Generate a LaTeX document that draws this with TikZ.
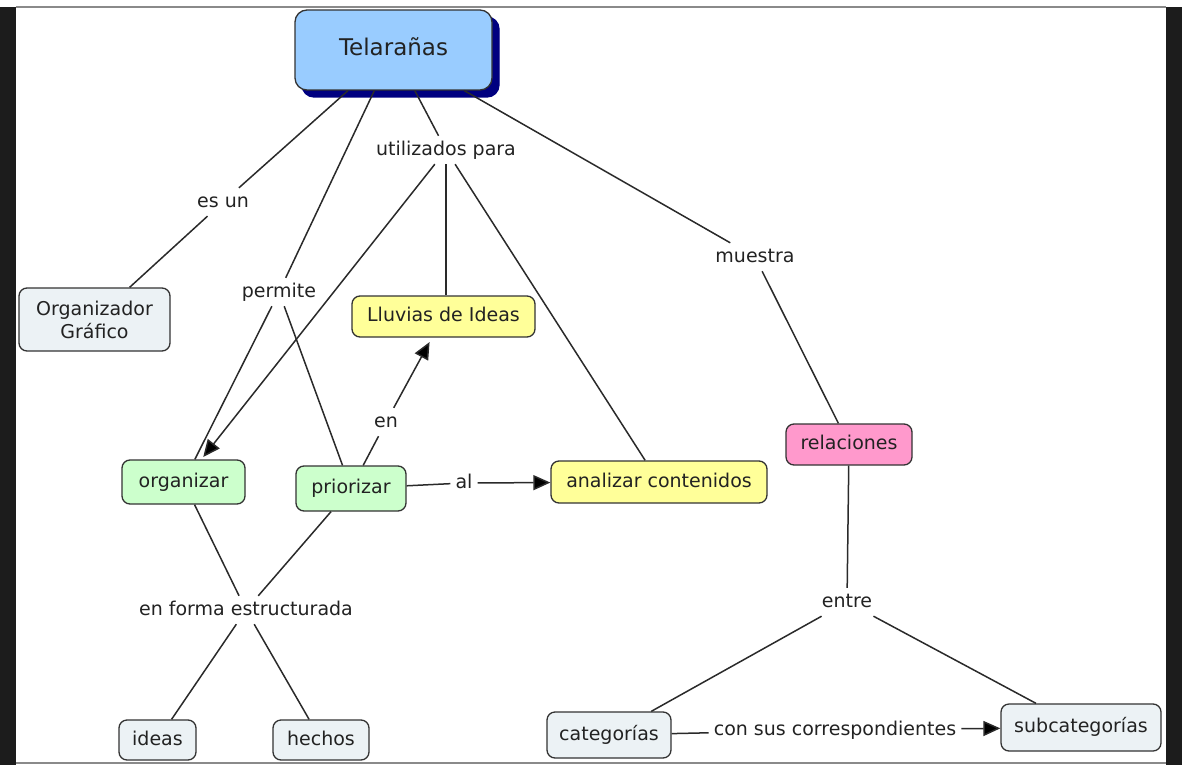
\documentclass[tikz,border=0pt]{standalone}
\usepackage{fontspec}
\setmainfont{DejaVu Sans}
\usetikzlibrary{arrows.meta,shadows}
\definecolor{edgec}{HTML}{2A2A2A}
\definecolor{bordc}{HTML}{333333}
\definecolor{bluec}{HTML}{99CCFF}
\definecolor{navyc}{HTML}{000080}
\definecolor{grayc}{HTML}{ECF2F5}
\definecolor{yelc}{HTML}{FFFF99}
\definecolor{grnc}{HTML}{CCFFCC}
\definecolor{pinkc}{HTML}{FF99CC}
\definecolor{txtc}{HTML}{222222}
\definecolor{framec}{HTML}{1C1C1C}
\definecolor{linec}{HTML}{8A8A8A}
\tikzset{
  concept/.style={draw=bordc, line width=1.3pt, rounded corners=8pt,
    font=\fontsize{19}{23}\selectfont, text=txtc, inner sep=0pt, align=center},
  oneline/.style={text height=14pt, text depth=4pt},
  lab/.style={font=\fontsize{19}{23}\selectfont, text=txtc, inner sep=5pt,
    text height=14pt, text depth=4pt},
  conn/.style={draw=edgec, line width=1.5pt},
  arr/.style={conn, -{Triangle[length=17pt,width=15pt,fill=black]}}
}
\begin{document}
\begin{tikzpicture}[x=1pt,y=-1pt]
\useasboundingbox (0,0) rectangle (1182,765);
% frame
\fill[framec] (0,7) rectangle (16,765);
\fill[framec] (1166,7) rectangle (1182,765);
\draw[linec, line width=2pt] (16,7) -- (1166,7);
\draw[linec, line width=2pt] (16,763) -- (1166,763);
% concepts
\node[concept, oneline, fill=bluec, minimum width=197pt, minimum height=80pt,
  rounded corners=12pt, font=\fontsize{23}{28}\selectfont,
  text height=17pt, text depth=5pt,
  copy shadow={shadow xshift=7pt, shadow yshift=-7pt, fill=navyc, draw=navyc}]
  (tel) at (393.5,50) {Telarañas};
\node[concept, fill=grayc, minimum width=151pt, minimum height=63pt]
  (org) at (94.5,319.5) {Organizador\\Gráfico};
\node[concept, oneline, fill=yelc, minimum width=183pt, minimum height=41pt]
  (llu) at (443.5,316.5) {Lluvias de Ideas};
\node[concept, oneline, fill=grnc, minimum width=123pt, minimum height=44pt]
  (orgz) at (183.5,482) {organizar};
\node[concept, oneline, fill=grnc, minimum width=110pt, minimum height=45pt]
  (prio) at (351,488.5) {priorizar};
\node[concept, oneline, fill=yelc, minimum width=216pt, minimum height=42pt]
  (anl) at (659,482) {analizar contenidos};
\node[concept, oneline, fill=pinkc, minimum width=126pt, minimum height=41pt]
  (rel) at (849,444.5) {relaciones};
\node[concept, oneline, fill=grayc, minimum width=77pt, minimum height=40pt]
  (ideas) at (157.5,740) {ideas};
\node[concept, oneline, fill=grayc, minimum width=96pt, minimum height=40pt]
  (hech) at (321,740) {hechos};
\node[concept, oneline, fill=grayc, minimum width=124pt, minimum height=46pt]
  (cat) at (609,735) {categorías};
\node[concept, oneline, fill=grayc, minimum width=160pt, minimum height=47pt]
  (sub) at (1081,727.5) {subcategorías};
% linking phrases
\node[lab] (esun) at (223,202) {es un};
\node[lab] (perm) at (279,292) {permite};
\node[lab] (util) at (446,150) {utilizados para};
\node[lab] (mue) at (755,257) {muestra};
\node[lab] (en) at (386,422) {en};
\node[lab] (al) at (464,483) {al};
\node[lab] (efe) at (246,610) {en forma estructurada};
\node[lab] (ent) at (847,602) {entre};
\node[lab] (csc) at (835,730) {con sus correspondientes};
% connectors
\draw[conn] (tel) -- (esun);
\draw[conn] (esun) -- (org);
\draw[conn] (tel) -- (perm);
\draw[conn] (perm) -- (orgz);
\draw[conn] (perm) -- (prio);
\draw[conn] (tel) -- (util);
\draw[arr, shorten >=3pt] (util) -- (orgz);
\draw[conn] (util) -- (util |- llu.north);
\draw[conn] (util) -- (anl);
\draw[conn] (tel) -- (mue);
\draw[conn] (mue) -- (rel);
\draw[conn] (prio) -- (en);
\draw[arr, shorten >=5pt] (en) -- (llu);
\draw[conn] (prio) -- (al);
\draw[arr] (al) -- (anl);
\draw[conn] (orgz) -- (efe);
\draw[conn] (prio) -- (efe);
\draw[conn] (efe) -- (ideas);
\draw[conn] (efe) -- (hech);
\draw[conn] (rel) -- (ent);
\draw[conn] (ent) -- (cat);
\draw[conn] (ent) -- (sub);
\draw[conn] (cat) -- (csc);
\draw[arr] (csc) -- (sub);
\end{tikzpicture}
\end{document}
